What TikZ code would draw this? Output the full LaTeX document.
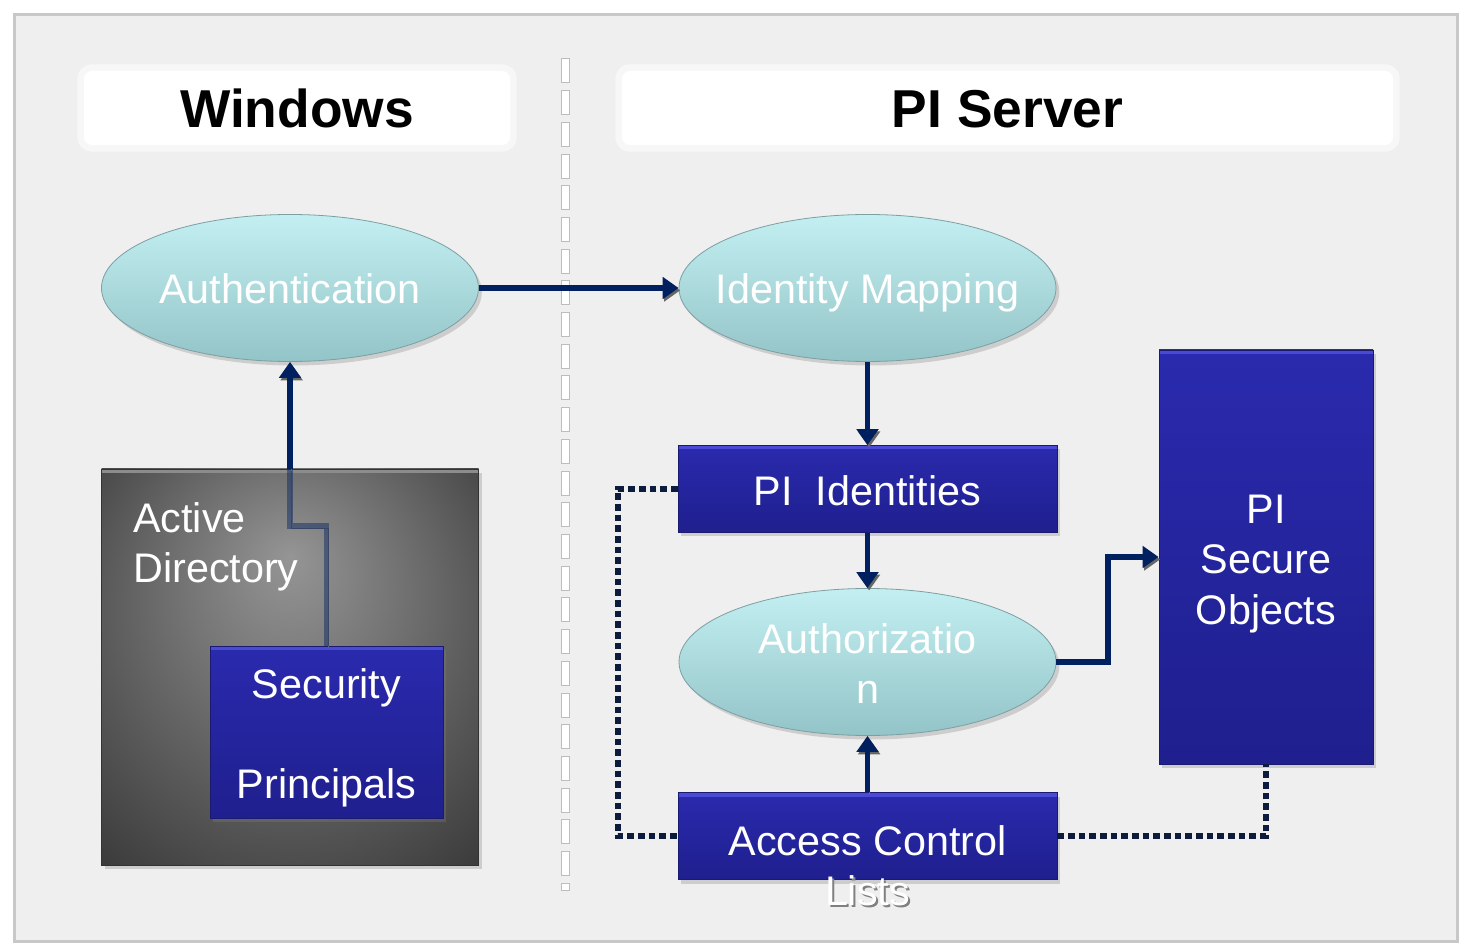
\documentclass[tikz,border=0pt]{standalone}
\usepackage{fontspec}
\setmainfont{Liberation Sans}
\usetikzlibrary{shapes.geometric,shadows,arrows.meta}
\definecolor{bgc}{HTML}{EFEFEF}
\definecolor{framec}{HTML}{C8C8C8}
\definecolor{navy}{HTML}{002060}
\definecolor{dotc}{HTML}{0D1B3D}
\definecolor{elltop}{HTML}{C3EFF2}
\definecolor{ellbot}{HTML}{93C4C7}
\definecolor{elledge}{HTML}{7C9FA2}
\definecolor{boxtop}{HTML}{2A2AAE}
\definecolor{boxbot}{HTML}{1F1F8E}
\definecolor{boxedge}{HTML}{1A1A70}
\definecolor{boxhi}{HTML}{4A4AD4}
\definecolor{adin}{HTML}{959595}
\definecolor{adout}{HTML}{363636}
\definecolor{sepc}{HTML}{BDBDBD}
\pgfdeclareradialshading{adshade}{\pgfpoint{0bp}{14bp}}{color(0bp)=(adin); color(40bp)=(adout); color(50bp)=(adout)}
\newcommand\placetxt[2]{\makebox[0pt]{\smash{\raisebox{#1}{\begin{tabular}[t]{@{}c@{}}#2\end{tabular}}}}}
\begin{document}
\begin{tikzpicture}[x=0.75pt,y=-0.75pt,
  txt/.style={font=\fontsize{31pt}{38pt}\selectfont, text=white, inner sep=0pt},
  shad/.style={drop shadow={shadow xshift=2.5pt, shadow yshift=-3pt, opacity=0.3}},
  ellnode/.style={txt, ellipse, minimum width=282.75pt, minimum height=110.25pt,
    top color=elltop, bottom color=ellbot, draw=elledge, line width=0.6pt, shad},
  bluebox/.style={txt, rectangle, top color=boxtop, bottom color=boxbot, draw=boxedge,
    line width=0.6pt, shad,
    path picture={\fill[boxhi] (path picture bounding box.north west) rectangle ([yshift=-3pt]path picture bounding box.north east);}},
  adbox/.style={rectangle, shading=adshade, draw=black!80, line width=0.6pt, shad,
    path picture={\fill[black!45] (path picture bounding box.north west) rectangle ([yshift=-3pt]path picture bounding box.north east);}},
  hdr/.style={rectangle, rounded corners=6pt, fill=white, draw=white, draw opacity=0.55, line width=10pt,
    inner sep=0pt, font=\fontsize{40pt}{46pt}\selectfont\bfseries, text=black},
  sepdash/.style={draw=sepc, fill=white, line width=0.75pt},
  conn/.style={draw=navy, line width=4.2pt,
    preaction={draw=black!60, transform canvas={xshift=1.2pt,yshift=-1.8pt}}},
  arr/.style={conn, -{Triangle[width=16pt,length=12pt]}},
  dotln/.style={draw=dotc, line width=4.8pt, dash pattern=on 5pt off 3pt}
]
% background and frame
\fill[white] (0,0) rectangle (1460,944);
\draw[draw=framec, line width=2.25pt, fill=bgc] (14,15) rectangle (1457,941);

% headers
\node[hdr, minimum width=319.5pt, minimum height=55.5pt] (hwin) at (297,108) {\placetxt{-15pt}{Windows}};
\node[hdr, minimum width=578.25pt, minimum height=55.5pt] (hpi) at (1007.5,108) {\placetxt{-15pt}{PI Server}};

% separator
\foreach \i in {0,...,25} \draw[sepdash] (561,{59+\i*31.7}) rectangle (569,{83+\i*31.7});
\draw[sepdash] (561,883) rectangle (569,890);

% Windows side
\node[ellnode] (auth) at (290,288) {\placetxt{-12pt}{Authentication}};
\node[adbox, minimum width=282.75pt, minimum height=297pt] (ad) at (290,667) {};
\node[txt, anchor=north west, align=left] (adt) at (133,502) {Active\\Directory};
\node[bluebox, minimum width=174.75pt, minimum height=129pt] (sp) at (326.5,732) {\placetxt{25.5pt}{Security\\[37pt]Principals}};

% PI Server side
\node[ellnode] (idmap) at (867.5,288) {\placetxt{-12pt}{Identity Mapping}};
\node[bluebox, minimum width=284.25pt, minimum height=65.25pt] (pii) at (867.5,489) {\placetxt{-12.75pt}{PI\ \ Identities}};
\node[ellnode] (authz) at (867.5,662) {\placetxt{6.75pt}{Authorizatio\\n}};
\node[bluebox, minimum width=284.25pt, minimum height=65.25pt] (acl) at (867.5,836)
  {\placetxt{-14.25pt}{Access Control\\\makebox[0pt][l]{\hspace{1.5pt}\raisebox{-1.5pt}{\color{black!50}Lists}}Lists}};
\node[bluebox, minimum width=160.5pt, minimum height=310.5pt] (sec) at (1266,557) {\placetxt{25.5pt}{PI\\Secure\\Objects}};

% connectors
\coordinate (adj) at (290,526);
\draw[conn, draw opacity=0.45] (sp.north) |- (adj) -- (ad.north -| auth.south);
\draw[arr] (ad.north -| auth.south) -- (auth.south);
\draw[arr] (auth.east) -- (idmap.west);
\draw[arr] (idmap.south) -- (pii.north);
\draw[arr] (pii.south) -- (authz.north);
\draw[arr] (acl.north) -- (authz.south);
\coordinate (jogx) at (1108,610);
\draw[arr] (authz.east) -| (jogx) |- (sec.west);
\coordinate (dl) at (618,489);
\draw[dotln] (pii.west) -- (dl) |- (acl.west);
\draw[dotln] (acl.east) -| (sec.south);
\end{tikzpicture}
\end{document}
